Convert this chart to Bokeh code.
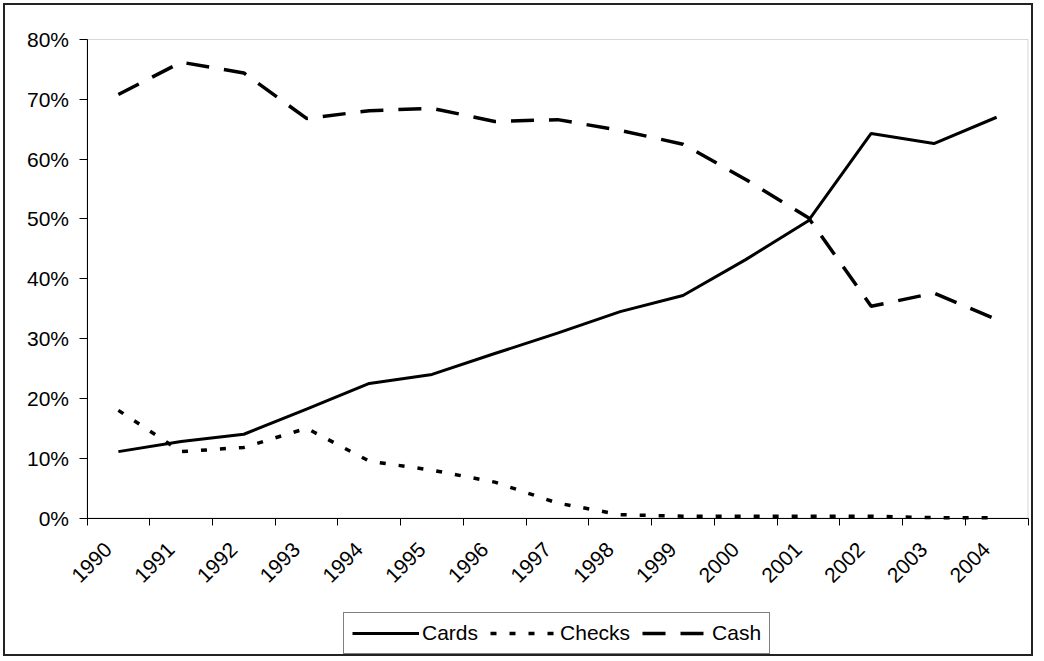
import math
from bokeh.plotting import figure
from bokeh.models import (Range1d, FixedTicker, NumeralTickFormatter, Legend, LegendItem,
                          CustomJSTickFormatter, BoxAnnotation)
from bokeh.embed import file_html
from bokeh.resources import INLINE

years = ["1990", "1991", "1992", "1993", "1994", "1995", "1996", "1997",
         "1998", "1999", "2000", "2001", "2002", "2003", "2004"]
cards = [11.1, 12.8, 14.0, 18.2, 22.5, 24.0, 27.5, 30.9, 34.5, 37.2, 43.2, 49.7, 64.3, 62.6, 67.0]
checks = [18.0, 11.1, 11.8, 15.0, 9.5, 8.0, 6.0, 2.5, 0.55, 0.3, 0.3, 0.3, 0.3, 0.05, 0.05]
cash = [70.8, 76.2, 74.4, 66.8, 68.1, 68.5, 66.3, 66.6, 64.8, 62.5, 56.6, 50.2, 35.4, 37.6, 33.2]
y_ticks = [0, 10, 20, 30, 40, 50, 60, 70, 80]

FONT = "Liberation Sans"
n = len(years)
xs = list(range(n))
Y_MAX = 0.8
X0, X1 = -0.5, n - 0.5

# layout (canvas pixels)
W, H = 1030, 653
PAD = 2
FRAME_T, FRAME_B = PAD, H - PAD          # frame covers almost the whole canvas
FRAME_L, FRAME_R = PAD, W - 5
ZERO_PX, TOP_PX = 512.5, 34.0            # canvas y of 0% and 80%
LEFT_PX, RIGHT_PX = 81.5, 1022.5         # canvas x of plot-area left / right
sy = (ZERO_PX - TOP_PX) / Y_MAX
sx = (RIGHT_PX - LEFT_PX) / (X1 - X0)
y_start = -(FRAME_B - ZERO_PX) / sy
y_end = Y_MAX + (TOP_PX - FRAME_T) / sy
x_start = X0 - (LEFT_PX - FRAME_L) / sx
x_end = X1 + (FRAME_R - RIGHT_PX) / sx

p = figure(width=W, height=H, x_range=Range1d(x_start, x_end), y_range=Range1d(y_start, y_end),
           output_backend="svg", toolbar_location=None,
           min_border_left=FRAME_L, min_border_right=W - FRAME_R,
           min_border_top=FRAME_T, min_border_bottom=H - FRAME_B)
p.styles = {"border": "2px solid #222", "margin-left": "3px", "margin-top": "3px"}
p.background_fill_color = "white"
p.border_fill_color = "white"
p.outline_line_color = None
p.xgrid.visible = False
p.ygrid.visible = False

# plot-area border (grey)
p.add_layout(BoxAnnotation(left=X0, right=X1, bottom=0, top=Y_MAX, fill_alpha=0,
                           line_color="#7a7a7a", line_width=1, level="underlay"))

r_cards = p.line(xs, [v / 100 for v in cards], line_color="black", line_width=3)
r_checks = p.line(xs, [v / 100 for v in checks], line_color="black", line_width=3.5, line_dash="6 13")
r_cash = p.line(xs, [v / 100 for v in cash], line_color="black", line_width=3.5, line_dash="23 15")

# x axis: labels at category centres, tick marks at category boundaries
LABEL_SHIFT = -0.16
xa = p.xaxis[0]
xa.fixed_location = 0
xa.bounds = (X0, X1)
xa.ticker = FixedTicker(ticks=[i + LABEL_SHIFT for i in xs], minor_ticks=[i - 0.5 for i in range(n + 1)])
xa.formatter = CustomJSTickFormatter(args=dict(labels=years),
                                     code="return labels[Math.round(tick)];")
xa.major_label_orientation = math.pi / 4
xa.major_tick_line_color = None
xa.major_tick_out = 0
xa.major_tick_in = 0
xa.minor_tick_line_color = "black"
xa.minor_tick_out = 7
xa.minor_tick_in = 0
xa.major_label_standoff = 21
xa.major_label_text_font = FONT
xa.major_label_text_font_size = "21px"
xa.major_label_text_color = "black"
xa.axis_line_color = "black"

ya = p.yaxis[0]
ya.fixed_location = X0
ya.bounds = (0, Y_MAX)
ya.ticker = FixedTicker(ticks=[t / 100 for t in y_ticks])
ya.formatter = NumeralTickFormatter(format="0%")
ya.major_tick_out = 8
ya.major_tick_in = 0
ya.minor_tick_line_color = None
ya.major_label_standoff = 10
ya.major_label_text_font = FONT
ya.major_label_text_font_size = "21px"
ya.major_label_text_color = "black"
ya.axis_line_color = "black"

legend = Legend(items=[LegendItem(label="Cards", renderers=[r_cards]),
                       LegendItem(label="Checks", renderers=[r_checks]),
                       LegendItem(label="Cash", renderers=[r_cash])],
                orientation="horizontal", location=(336, 2))
legend.label_text_font = FONT
legend.label_text_font_size = "21px"
legend.label_text_color = "black"
legend.glyph_width = 67
legend.glyph_height = 24
legend.label_height = 24
legend.label_standoff = 3
legend.spacing = 12
legend.padding = 8
legend.margin = 0
legend.border_line_color = "black"
legend.border_line_width = 1
legend.background_fill_color = "white"
p.add_layout(legend, "center")

open("out.html", "w").write(file_html(p, INLINE))
